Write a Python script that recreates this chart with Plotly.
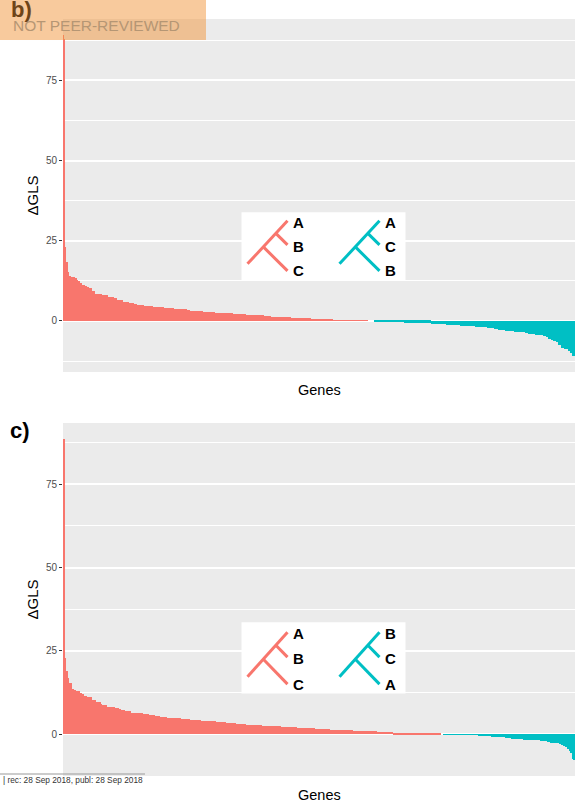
import plotly.graph_objects as go

# ---- data (run-length: value, number of genes) ----
b_values = [89.0, 88.0, 23.1, 18.4, 15.2, 14.0, 13.7, 13.3, 12.9, 12.6, 11.7, 11.3, 11.0, 10.5, 10.2,
            9.2, 8.4, 8.0, 7.5, 7.1, 6.5, 5.9, 5.6, 5.2, 4.9, 4.6, 4.3, 3.9, 3.6, 3.4, 3.1, 2.8, 2.5,
            2.2, 1.9, 1.6, 1.25, 0.93, 0.62, 0.31, 0.2, 0.1, 0.0, -0.2, -0.6, -0.93, -1.25, -1.56,
            -1.87, -2.2, -2.6, -2.8, -3.1, -3.4, -3.7, -4.0, -4.4, -4.7, -5.1, -5.5, -5.8, -6.1,
            -6.5, -7.6, -8.4, -8.8, -9.3, -10.1, -10.9]
b_counts = [1, 1, 1, 2, 1, 2, 4, 2, 1, 2, 2, 3, 2, 2, 3, 3, 7, 6, 6, 3, 6, 6, 5, 3, 7, 9, 11, 10,
            13, 3, 13, 12, 18, 13, 18, 7, 20, 20, 15, 7, 23, 12, 6, 30, 27, 15, 14, 15, 12, 7, 4,
            7, 9, 11, 3, 7, 8, 3, 2, 3, 2, 3, 2, 3, 3, 4, 2, 2, 3]

c_values = [88.5, 22.8, 19.0, 16.9, 15.4, 15.2, 13.5, 13.1, 12.8, 12.3, 11.9, 11.5, 11.1, 10.3,
            9.6, 9.1, 8.7, 8.1, 7.8, 7.4, 7.2, 6.9, 6.4, 6.0, 5.6, 5.3, 5.0, 4.7, 4.4, 4.2, 3.9,
            3.6, 3.2, 3.0, 2.7, 2.4, 2.1, 1.8, 1.5, 1.2, 0.9, 0.6, 0.3, 0.1, 0.0, -0.2, -0.5, -0.8,
            -1.1, -1.4, -1.7, -2.0, -2.3, -2.6, -2.9, -3.3, -3.6, -4.0, -4.4, -5.0, -5.8, -7.5, -7.8]
c_counts = [2, 1, 2, 1, 1, 2, 2, 2, 4, 2, 2, 3, 5, 4, 5, 1, 5, 8, 4, 2, 4, 6, 12, 6, 6, 5, 7, 14,
            9, 11, 15, 10, 10, 10, 16, 19, 16, 18, 15, 23, 24, 16, 19, 29, 2, 35, 13, 14, 6, 12,
            17, 7, 3, 9, 2, 2, 2, 2, 2, 1, 2, 1, 2]

y_ticks = [0, 25, 50, 75]
y_minor = [-12.5, 12.5, 37.5, 62.5, 87.5]

# inset tree (data units: gene index, ΔGLS)
tree_x = [184, 224, None, 200.1, 224, None, 212.6, 224]
tree_y = [17.8, 31.2, None, 23.0, 15.6, None, 27.2, 23.7]
tree_shift = 92
label_y = [30.8, 23.2, 15.6]
label_x = 227
box_x = [178, 342]
box_y = [12.5, 33.9]
b_labels = (["A", "B", "C"], ["A", "C", "B"])
c_labels = (["A", "B", "C"], ["B", "C", "A"])

RED = "#F8766D"
TEAL = "#00BFC4"
W, H = 575, 801
L = 63
PW = W - L


def expand(vals, counts):
    out = []
    for v, c in zip(vals, counts):
        out += [v] * c
    return out


def px(xp):
    return (xp - L) / PW


def py(yp):
    return 1 - yp / H


fig = go.Figure()
shapes = []
annotations = []

panels = [
    ("x", "y", expand(b_values, b_counts), b_labels, 0.0, [py(372), py(19)], [-15.9, 94.1]),
    ("x2", "y2", expand(c_values, c_counts), c_labels, -0.6, [py(776), py(423)], [-12.6, 93.4]),
]

layout_axes = {}
for i, (xa, ya, vals, labels, dy, dom, rng) in enumerate(panels):
    n = len(vals)
    fig.add_trace(go.Bar(
        x=list(range(n)), y=vals, xaxis=xa, yaxis=ya,
        marker=dict(color=[RED if v >= 0 else TEAL for v in vals], line=dict(width=0)),
        showlegend=False, hoverinfo="skip"))
    for col, sh, labs in [(RED, 0, labels[0]), (TEAL, tree_shift, labels[1])]:
        fig.add_trace(go.Scatter(
            x=[None if v is None else v + sh for v in tree_x],
            y=[None if v is None else v + dy for v in tree_y],
            mode="lines", line=dict(color=col, width=3), xaxis=xa, yaxis=ya,
            showlegend=False, hoverinfo="skip"))
        for t, ly in zip(labs, label_y):
            annotations.append(dict(x=label_x + sh, y=ly + dy, xref=xa, yref=ya, text="<b>%s</b>" % t,
                                    showarrow=False, xanchor="left", yanchor="middle",
                                    font=dict(size=15, color="black", family="Liberation Sans")))
    shapes.append(dict(type="rect", xref=xa, yref=ya, x0=box_x[0], x1=box_x[1],
                       y0=box_y[0] + dy / 2, y1=box_y[1] + dy / 2,
                       fillcolor="white", line=dict(width=0), layer="between"))
    sfx = "" if i == 0 else "2"
    layout_axes["xaxis" + sfx] = dict(domain=[0, 1], range=[-0.5, n - 0.5], anchor=ya,
                                      showticklabels=False, showgrid=False, zeroline=False,
                                      ticks="", showline=False)
    layout_axes["yaxis" + sfx] = dict(domain=dom, range=rng, anchor=xa, tickmode="array",
                                      tickvals=y_ticks, ticktext=[str(t) for t in y_ticks],
                                      ticks="outside", ticklen=3, tickwidth=1, tickcolor="#333333",
                                      tickfont=dict(size=10, color="#4D4D4D", family="Liberation Sans"),
                                      showgrid=True, gridcolor="white", gridwidth=1.5,
                                      zeroline=False, showline=False,
                                      minor=dict(tickmode="array", tickvals=y_minor, showgrid=True,
                                                 gridcolor="white", gridwidth=0.8, ticks=""))
    mid = (dom[0] + dom[1]) / 2
    annotations.append(dict(x=px(32), y=mid, xref="paper", yref="paper", text="ΔGLS",
                            textangle=-90, showarrow=False, xanchor="center", yanchor="middle",
                            font=dict(size=15, color="black", family="Liberation Sans")))

annotations.append(dict(x=0.5, y=py(390), xref="paper", yref="paper", text="Genes", showarrow=False,
                        xanchor="center", yanchor="middle",
                        font=dict(size=14.5, color="black", family="Liberation Sans")))
annotations.append(dict(x=0.5, y=py(795), xref="paper", yref="paper", text="Genes", showarrow=False,
                        xanchor="center", yanchor="middle",
                        font=dict(size=14.5, color="black", family="Liberation Sans")))
annotations.append(dict(x=px(9), y=py(9), xref="paper", yref="paper", text="<b>b)</b>",
                        showarrow=False, xanchor="left", yanchor="middle",
                        font=dict(size=22, color="#6E4418", family="Liberation Sans")))
annotations.append(dict(x=px(8), y=py(430), xref="paper", yref="paper", text="<b>c)</b>",
                        showarrow=False, xanchor="left", yanchor="middle",
                        font=dict(size=22, color="black", family="Liberation Sans")))
annotations.append(dict(x=px(96), y=py(26), xref="paper", yref="paper", text="NOT PEER-REVIEWED",
                        showarrow=False, xanchor="center", yanchor="middle",
                        font=dict(size=15.5, color="#B59674", family="Liberation Sans")))
annotations.append(dict(x=px(1), y=py(780), xref="paper", yref="paper",
                        text="| rec: 28 Sep 2018, publ: 28 Sep 2018",
                        showarrow=False, xanchor="left", yanchor="middle",
                        font=dict(size=8.3, color="#333333", family="Liberation Sans")))

shapes.append(dict(type="rect", xref="paper", yref="paper", x0=px(0), x1=px(206), y0=py(40), y1=py(0),
                   fillcolor="rgba(242,150,60,0.5)", line=dict(width=0), layer="above"))
shapes.append(dict(type="line", xref="paper", yref="paper", x0=px(0), x1=px(145), y0=py(774), y1=py(774),
                   line=dict(color="#999999", width=1), layer="above"))

fig.update_layout(width=W, height=H, margin=dict(l=L, r=0, t=0, b=0),
                  paper_bgcolor="white", plot_bgcolor="#EBEBEB",
                  bargap=0, barmode="overlay", shapes=shapes, annotations=annotations,
                  **layout_axes)
fig.write_html("out.html", config={"displayModeBar": False},
               post_script="document.body.style.margin='0px';document.body.style.padding='0px';")
